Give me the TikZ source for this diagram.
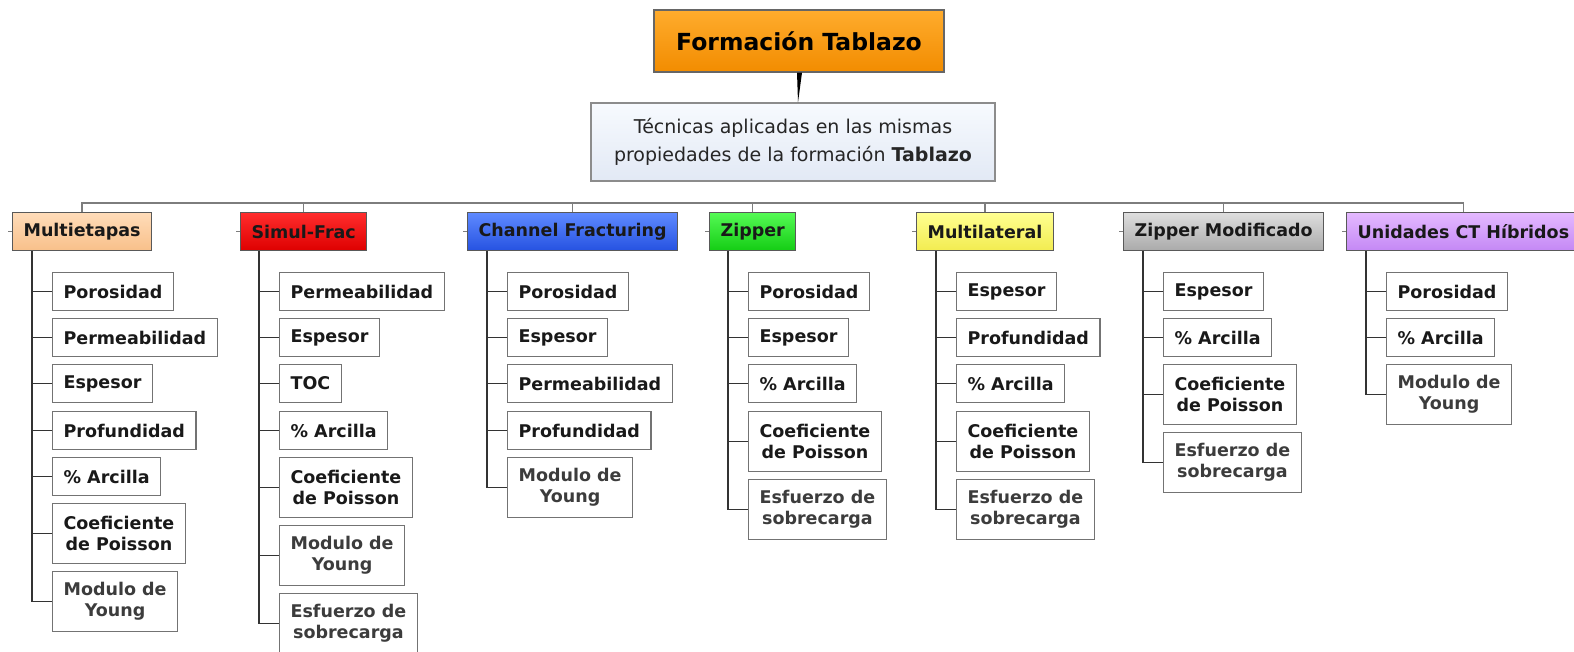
\documentclass[tikz,border=0pt]{standalone}
\usepackage{fontspec}
\setmainfont{DejaVu Sans}
\usepackage{tikz}
\usetikzlibrary{calc}
\definecolor{tabtop}{RGB}{255,172,45}
\definecolor{tabbot}{RGB}{242,140,0}
\definecolor{tectop}{RGB}{247,250,254}
\definecolor{tecbot}{RGB}{226,233,245}
\definecolor{multop}{RGB}{255,220,185}
\definecolor{mulbot}{RGB}{248,192,138}
\definecolor{simtop}{RGB}{255,45,45}
\definecolor{simbot}{RGB}{222,0,0}
\definecolor{chatop}{RGB}{95,138,255}
\definecolor{chabot}{RGB}{38,82,225}
\definecolor{ziptop}{RGB}{85,250,85}
\definecolor{zipbot}{RGB}{20,205,20}
\definecolor{mlttop}{RGB}{255,255,145}
\definecolor{mltbot}{RGB}{242,236,80}
\definecolor{zmotop}{RGB}{222,222,222}
\definecolor{zmobot}{RGB}{170,170,170}
\definecolor{ucttop}{RGB}{228,185,255}
\definecolor{uctbot}{RGB}{196,136,245}
\definecolor{linegray}{RGB}{125,125,125}
\definecolor{textgray}{RGB}{60,60,60}

\begin{document}
\begin{tikzpicture}[
    x=1pt, y=-1pt,
    head/.style 2 args={draw=black!65, line width=1.2pt, top color=#1,
                  bottom color=#2, anchor=north west, minimum height=38pt,
                  inner xsep=11pt, text=black!90,
                  font=\fontsize{17.5}{21}\selectfont\bfseries},
    leaf/.style={draw=black!55, line width=1.2pt, fill=white,
                 anchor=north west, minimum height=38pt, inner xsep=11pt,
                 align=center, text=black!90,
                 font=\fontsize{17.5}{21}\selectfont\bfseries},
    leaftwo/.style={leaf, minimum height=60pt},
    trunk/.style={draw=black!80, line width=1.5pt},
    bus/.style={draw=linegray, line width=1.5pt},
]
\useasboundingbox (0,0) rectangle (1574,652);
\fill[white] (0,0) rectangle (1574,652);

\node[draw=black!60, line width=1.2pt, top color=tabtop, bottom color=tabbot,
      minimum width=290pt, minimum height=62pt,
      font=\fontsize{23.5}{28}\selectfont\bfseries] (tab) at (799,41) {Formación Tablazo};
\node[draw=black!45, line width=1.2pt, top color=tectop, bottom color=tecbot,
      minimum width=404pt, minimum height=78pt, align=center, text=black!85,
      font=\fontsize{19}{28}\selectfont] (tec) at (793,142)
      {Técnicas aplicadas en las mismas\\propiedades de la formación \textbf{Tablazo}};

\node[head={multop}{mulbot}] (hm) at (12,212) {Multietapas};
\node[head={simtop}{simbot}] (hs) at (240,212) {Simul-Frac};
\node[head={chatop}{chabot}] (hc) at (467,212) {Channel Fracturing};
\node[head={ziptop}{zipbot}] (hz) at (709,212) {Zipper};
\node[head={mlttop}{mltbot}] (hl) at (916,212) {Multilateral};
\node[head={zmotop}{zmobot}] (hzm) at (1123,212) {Zipper Modificado};
\node[head={ucttop}{uctbot}] (hu) at (1346,212) {Unidades CT Híbridos};

\node[leaf] (m1) at (52,272) {Porosidad};
\node[leaf] (m2) at (52,318) {Permeabilidad};
\node[leaf] (m3) at (52,364) {Espesor};
\node[leaf] (m4) at (52,411) {Profundidad};
\node[leaf] (m5) at (52,457) {\% Arcilla};
\node[leaftwo] (m6) at (52,503) {Coeficiente\\de Poisson};
\node[leaftwo, text=textgray] (m7) at (52,571) {Modulo de\\Young};

\node[leaf] (s1) at (279,272) {Permeabilidad};
\node[leaf] (s2) at (279,318) {Espesor};
\node[leaf] (s3) at (279,364) {TOC};
\node[leaf] (s4) at (279,411) {\% Arcilla};
\node[leaftwo] (s5) at (279,457) {Coeficiente\\de Poisson};
\node[leaftwo, text=textgray] (s6) at (279,525) {Modulo de\\Young};
\node[leaftwo, text=textgray] (s7) at (279,593) {Esfuerzo de\\sobrecarga};

\node[leaf] (c1) at (507,272) {Porosidad};
\node[leaf] (c2) at (507,318) {Espesor};
\node[leaf] (c3) at (507,364) {Permeabilidad};
\node[leaf] (c4) at (507,411) {Profundidad};
\node[leaftwo, text=textgray] (c5) at (507,457) {Modulo de\\Young};

\node[leaf] (z1) at (748,272) {Porosidad};
\node[leaf] (z2) at (748,318) {Espesor};
\node[leaf] (z3) at (748,364) {\% Arcilla};
\node[leaftwo] (z4) at (748,411) {Coeficiente\\de Poisson};
\node[leaftwo, text=textgray] (z5) at (748,479) {Esfuerzo de\\sobrecarga};

\node[leaf] (l1) at (956,272) {Espesor};
\node[leaf] (l2) at (956,318) {Profundidad};
\node[leaf] (l3) at (956,364) {\% Arcilla};
\node[leaftwo] (l4) at (956,411) {Coeficiente\\de Poisson};
\node[leaftwo, text=textgray] (l5) at (956,479) {Esfuerzo de\\sobrecarga};

\node[leaf] (zm1) at (1163,272) {Espesor};
\node[leaf] (zm2) at (1163,318) {\% Arcilla};
\node[leaftwo] (zm3) at (1163,364) {Coeficiente\\de Poisson};
\node[leaftwo, text=textgray] (zm4) at (1163,432) {Esfuerzo de\\sobrecarga};

\node[leaf] (u1) at (1386,272) {Porosidad};
\node[leaf] (u2) at (1386,318) {\% Arcilla};
\node[leaftwo, text=textgray] (u3) at (1386,364) {Modulo de\\Young};

% top link and bus
\fill[black] ($(tab.south)+(-2,0)$) -- ($(tab.south)+(3,0)$) -- ($(tec.north)+(5,0)$) -- cycle;
\coordinate (busy) at (0,203);
\draw[trunk] ($(tec.south)+(3,0)$) -- ($(tec.south)+(3,0)$ |- busy);
\draw[bus] (hm.north) |- (busy -| hu.north) -- (hu.north);
\foreach \h in {hs,hc,hz,hl,hzm}
    \draw[bus] (\h.north) -- (\h.north |- busy);
\foreach \h in {hm,hs,hc,hz,hl,hzm,hu}
    \draw[bus] (\h.west) -- ++(-4,0);

% trunks
\draw[trunk] (hm.south west) ++(20,0) |- (m7.west);
\draw[trunk] (hs.south west) ++(19,0) |- (s7.west);
\draw[trunk] (hc.south west) ++(20,0) |- (c5.west);
\draw[trunk] (hz.south west) ++(19,0) |- (z5.west);
\draw[trunk] (hl.south west) ++(20,0) |- (l5.west);
\draw[trunk] (hzm.south west) ++(20,0) |- (zm4.west);
\draw[trunk] (hu.south west) ++(20,0) |- (u3.west);
\foreach \n in {m1,m2,m3,m4,m5,m6,s1,s2,s3,s4,s5,s6,c1,c2,c3,c4,
                z1,z2,z3,z4,l1,l2,l3,l4,zm1,zm2,zm3,u1,u2}
    \draw[trunk] (\n.west) -- ++(-20,0);

\end{tikzpicture}
\end{document}
